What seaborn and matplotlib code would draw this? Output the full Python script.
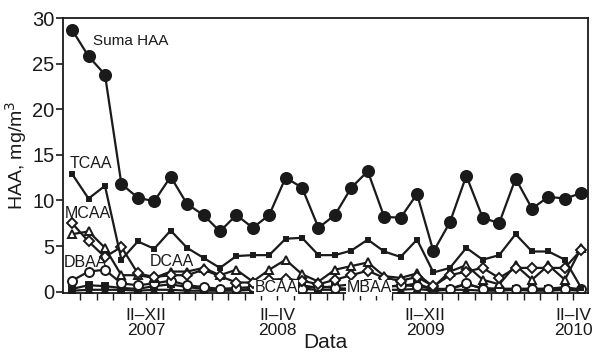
import numpy as np
import pandas as pd
import matplotlib
matplotlib.use("Agg")
import matplotlib.pyplot as plt
import seaborn as sns

# sampling index (32 samples, 2007-2010)
sample = list(range(32))

suma_haa = [28.7, 25.8, 23.8, 11.8, 10.3, 9.9, 12.6, 9.6, 8.4, 6.6, 8.4, 7.0, 8.4, 12.5, 11.4, 7.0,
            8.4, 11.4, 13.2, 8.2, 8.1, 10.7, 4.4, 7.6, 12.7, 8.1, 7.5, 12.4, 9.1, 10.4, 10.2, 10.8]
tcaa = [12.9, 10.2, 11.6, 3.5, 5.5, 4.7, 6.7, 4.8, 3.7, 2.6, 3.9, 4.0, 4.0, 5.8, 5.9, 4.0,
        4.0, 4.5, 5.7, 4.4, 3.8, 5.7, 2.1, 2.6, 4.8, 3.5, 4.0, 6.3, 4.4, 4.4, 3.5, 0.4]
mcaa = [7.5, 5.5, 3.8, 4.9, 2.0, 1.6, 1.8, 1.8, 2.4, 1.7, 1.0, 1.0, 1.3, 1.4, 1.2, 0.8,
        1.3, 1.8, 2.3, 1.5, 1.2, 1.6, 0.6, 1.8, 2.2, 2.6, 1.5, 2.6, 2.6, 2.6, 2.6, 4.6]
dcaa = [6.3, 6.6, 4.8, 1.8, 1.8, 1.5, 2.2, 2.2, 2.6, 1.8, 2.4, 1.1, 2.4, 3.5, 1.9, 1.1,
        2.4, 2.8, 3.2, 1.7, 1.5, 2.0, 0.5, 2.2, 2.9, 1.3, 0.8, 2.9, 1.3, 2.9, 1.3, 4.8]
dbaa = [1.2, 2.2, 2.4, 0.9, 0.7, 0.9, 1.2, 0.7, 0.5, 0.3, 0.4, 0.5, 0.3, 0.4, 0.3, 0.6,
        0.4, 0.3, 0.2, 0.5, 0.7, 0.6, 0.3, 0.3, 0.9, 0.3, 0.3, 0.3, 0.3, 0.3, 0.3, 0.3]
bcaa = [0.3, 0.7, 0.6, 0.4, 0.3, 0.6, 0.8, 0.5, 0.3, 0.2, 0.2, 0.3, 0.4, 0.8, 0.7, 0.4,
        0.6, 0.8, 0.9, 0.6, 0.6, 0.9, 0.2, 0.3, 0.8, 0.4, 0.3, 0.3, 0.3, 0.3, 0.5, 0.2]
mbaa = [0.1, 0.2, 0.2, 0.2, 0.1, 0.2, 0.2, 0.1, 0.1, 0.1, 0.1, 0.2, 0.2, 0.3, 0.3, 0.2,
        0.2, 0.2, 0.2, 0.2, 0.2, 0.3, 0.1, 0.2, 0.2, 0.1, 0.1, 0.2, 0.1, 0.1, 0.2, 0.1]

period_pos = [4.5, 12.5, 21.5, 30.5]
period_labels = ["II\u2013XII\n2007", "II\u2013IV\n2008", "II\u2013XII\n2009", "II\u2013IV\n2010"]

sns.set_style("ticks")
plt.rcParams["font.family"] = ["Liberation Sans", "DejaVu Sans"]

fig = plt.figure(figsize=(5.95, 3.53), dpi=100)
ax = fig.add_axes([0.106, 0.170, 0.882, 0.779])

ink = "#1a1a1a"
series = [
    (mbaa, "^", ink, 4),
    (bcaa, "s", ink, 5),
    (dbaa, "o", "white", 6.5),
    (dcaa, "^", "white", 6),
    (mcaa, "D", "white", 5),
    (tcaa, "s", ink, 3),
    (suma_haa, "o", ink, 8),
]
for vals, mk, fc, ms in series:
    sns.lineplot(x=sample, y=vals, ax=ax, color=ink, lw=1.6, marker=mk,
                 markersize=ms, markerfacecolor=fc, markeredgecolor=ink,
                 markeredgewidth=1.4)

txt = dict(fontsize=11.5, color=ink)
ax.text(1.3, 27.5, "Suma HAA", va="center", ha="left", fontsize=11, color=ink)
ax.text(-0.15, 14.1, "TCAA", va="center", ha="left", **txt)
ax.text(-0.45, 8.6, "MCAA", va="center", ha="left", **txt)
ax.text(-0.5, 3.2, "DBAA", va="center", ha="left", **txt)
ax.text(4.75, 3.3, "DCAA", va="center", ha="left", **txt)
box = dict(facecolor="white", edgecolor="none", pad=0.5)
ax.text(11.1, 0.4, "BCAA", va="center", ha="left", bbox=box, **txt)
ax.text(16.7, 0.4, "MBAA", va="center", ha="left", bbox=box, **txt)

ax.set_xlim(-0.55, 31.4)
ax.set_ylim(-0.15, 30)
ax.set_yticks([0, 5, 10, 15, 20, 25, 30])
ax.set_xticks([i + 0.5 for i in range(31)], minor=True)
ax.set_xticks(period_pos)
ax.set_xticklabels(period_labels, fontsize=12.5, color=ink, linespacing=0.95)
ax.tick_params(axis="x", which="both", direction="out", length=5, width=1, color=ink, pad=6)
ax.tick_params(axis="y", direction="out", length=5, width=1.2, color=ink, labelsize=14.5, labelcolor=ink, pad=1)

ax.set_xlabel("Data", fontsize=15, color=ink)
ax.xaxis.set_label_coords(0.5, -0.145)
ax.set_ylabel("HAA, mg/m$^3$", fontsize=14, color=ink)
ax.yaxis.set_label_coords(-0.064, 0.5)
for s in ax.spines.values():
    s.set_visible(True)
    s.set_linewidth(1.3)
    s.set_color(ink)

fig.savefig("out.png", dpi=100)
